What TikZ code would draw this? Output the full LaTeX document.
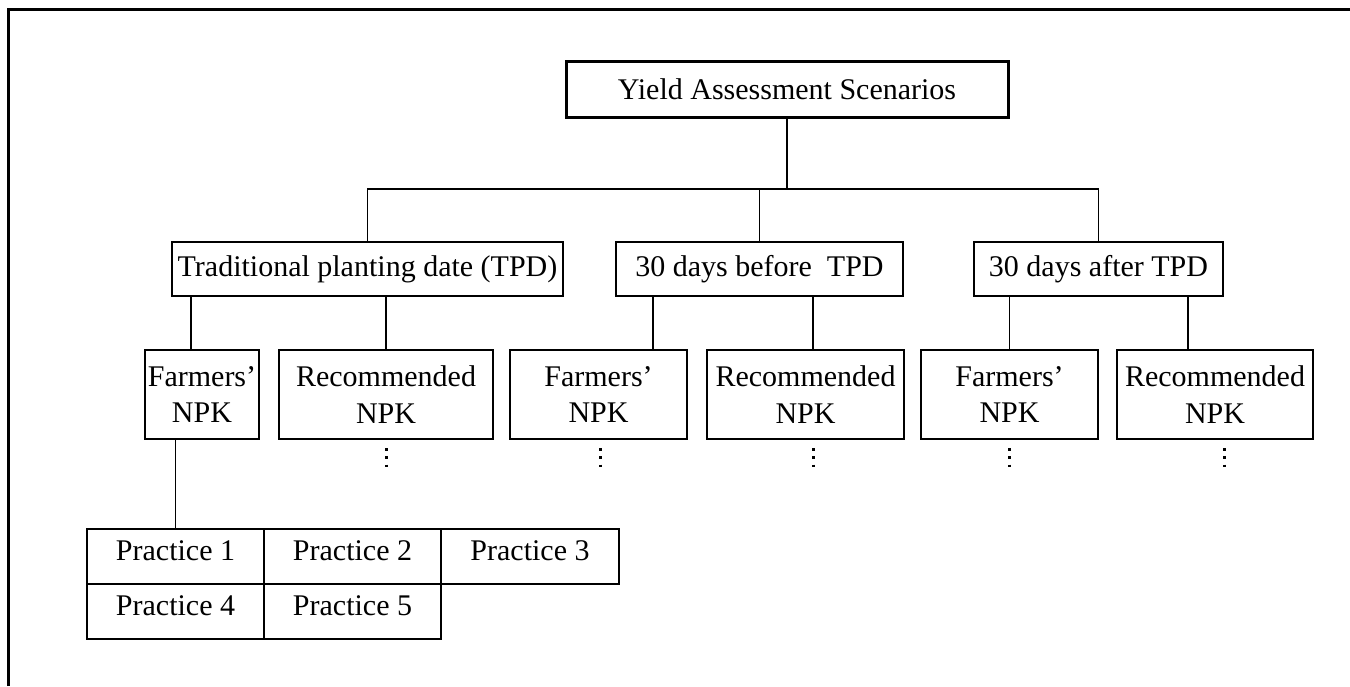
\documentclass[tikz,border=0pt]{standalone}
\usepackage{fontspec}
\setmainfont{Liberation Serif}

\begin{document}
\begin{tikzpicture}[x=0.4pt,y=-0.4pt,
   box/.style={draw,line width=0.8pt,inner sep=0pt,align=center,
      font=\fontsize{12}{14.5}\selectfont},
   cell/.style={draw,line width=1.1pt,inner sep=0pt,minimum width=70.8pt,
      minimum height=22pt,text height=12.4pt,text depth=9.6pt,
      font=\fontsize{12}{14.5}\selectfont},
   link/.style={line width=0.7pt},
   more/.style={line width=1.2pt,dash pattern=on 1.1pt off 2.2pt}]
   \useasboundingbox (0,0) rectangle (1350,686);
   % frame
   \draw[line width=1.2pt] (8,686) -- (8,10) -- (1350,10);

   \node[box,line width=1.2pt,minimum width=176.8pt,minimum height=22pt] (root) at (787,89.5) {Yield Assessment Scenarios};

   \node[box,minimum width=156.4pt,minimum height=21.6pt] (tpd) at (367.5,269) {Traditional planting date (TPD)};
   \node[box,minimum width=114.8pt,minimum height=21.6pt] (before) at (759.5,269) {30 days before\ \ TPD};
   \node[box,minimum width=99.6pt,minimum height=21.6pt] (after) at (1098.5,269) {30 days after TPD};

   \node[box,minimum width=45.6pt,minimum height=35.6pt] (a1) at (202,394.5) {Farmers'\\NPK};
   \node[box,minimum width=85.6pt,minimum height=35.6pt] (a2) at (386,394.5) {Recommended\\NPK};
   \node[box,minimum width=70.8pt,minimum height=35.6pt] (b1) at (598.5,394.5) {Farmers'\\NPK};
   \node[box,minimum width=78.8pt,minimum height=35.6pt] (b2) at (805.5,394.5) {Recommended\\NPK};
   \node[box,minimum width=70.8pt,minimum height=35.6pt] (c1) at (1009.5,394.5) {Farmers'\\NPK};
   \node[box,minimum width=78.4pt,minimum height=35.6pt] (c2) at (1215,394.5) {Recommended\\NPK};

   \node[cell] (p1) at (175.5,556.5) {Practice 1};
   \node[cell] (p2) at (352.5,556.5) {Practice 2};
   \node[cell,minimum width=71.2pt] (p3) at (530,556.5) {Practice 3};
   \node[cell] (p4) at (175.5,611.5) {Practice 4};
   \node[cell] (p5) at (352.5,611.5) {Practice 5};

   % connectors
   \coordinate (bus) at (0,189);
   \draw[link] (root.south) -- (root.south |- bus);
   \draw[link] (tpd.north) -- (tpd.north |- bus) -- (after.north |- bus) -- (after.north);
   \draw[link] (before.north) -- (before.north |- bus);

   \draw[link] (a1.north -| 191,0) -- (tpd.south -| 191,0);
   \draw[link] (a2.north) -- (a2.north |- tpd.south);
   \draw[link] (b1.north -| 653,0) -- (before.south -| 653,0);
   \draw[link] (b2.north -| 813,0) -- (before.south -| 813,0);
   \draw[link] (c1.north) -- (c1.north |- after.south);
   \draw[link] (c2.north -| 1188,0) -- (after.south -| 1188,0);

   \draw[link] (p1.north) -- (p1.north |- a1.south);

   % dotted continuations
   \draw[more] (a2.south) ++(0,8) -- ++(0,23);
   \draw[more] (b1.south -| 600,0) ++(0,8) -- ++(0,23);
   \draw[more] (b2.south -| 813,0) ++(0,8) -- ++(0,23);
   \draw[more] (c1.south) ++(0,8) -- ++(0,23);
   \draw[more] (c2.south -| 1224,0) ++(0,8) -- ++(0,23);
\end{tikzpicture}
\end{document}
